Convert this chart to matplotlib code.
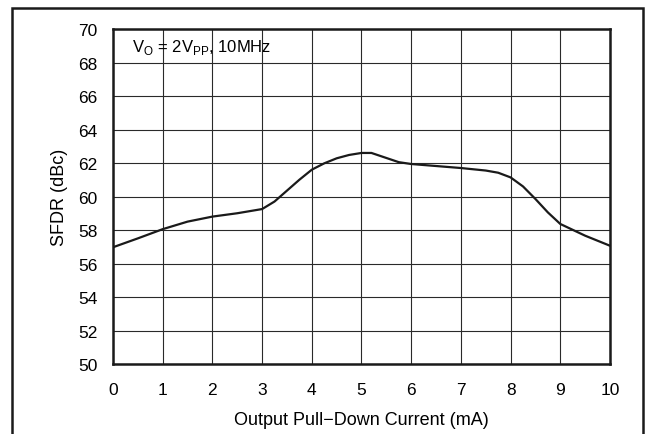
import numpy as np
import matplotlib.pyplot as plt
from matplotlib.patches import Rectangle

plt.rcParams['font.family'] = ['Liberation Sans', 'DejaVu Sans']
plt.rcParams['mathtext.fontset'] = 'custom'
plt.rcParams['mathtext.rm'] = 'Liberation Sans'

# SFDR vs output pull-down current
current_ma = [0, 0.5, 1, 1.5, 2, 2.5, 3, 3.25, 3.5, 3.75, 4, 4.25, 4.5, 4.75, 5, 5.2, 5.5, 5.75,
              6, 6.5, 7, 7.5, 7.75, 8, 8.25, 8.5, 8.75, 9, 9.5, 10]
sfdr_dbc = [56.97, 57.5, 58.05, 58.5, 58.8, 59.0, 59.25, 59.7, 60.35, 61.0, 61.6, 61.98, 62.28,
            62.48, 62.6, 62.6, 62.3, 62.05, 61.94, 61.82, 61.7, 61.55, 61.42, 61.14, 60.6,
            59.85, 59.05, 58.36, 57.66, 57.06]

xticks = list(range(0, 11))
yticks = list(range(50, 71, 2))

fig = plt.figure(figsize=(6.45, 4.35), dpi=100)
ax = fig.add_axes([113/645, 1-365/435, (610-113)/645, (365-30)/435])

ax.plot(current_ma, sfdr_dbc, color='#1a1a1a', lw=1.6, solid_joinstyle='round')

ax.set_xlim(0, 10)
ax.set_ylim(50, 70)
ax.set_xticks(xticks)
ax.set_yticks(yticks)
ax.tick_params(length=0, labelsize=12.5)
ax.tick_params(axis='x', pad=13)
ax.tick_params(axis='y', pad=11)
ax.grid(True, color='#2a2a2a', lw=0.8)
for s in ax.spines.values():
    s.set_linewidth(1.8)
    s.set_color('#1a1a1a')

ax.set_xlabel('Output Pull\u2212Down Current (mA)', fontsize=13, labelpad=10)
ax.set_ylabel('SFDR (dBc)', fontsize=13, labelpad=7.5)

ax.text(0.38, 68.7, r'V$_\mathregular{O}$ = 2V$_\mathregular{PP}$, 10MHz', fontsize=12,
        va='baseline', ha='left')

# outer frame
fig.patches.append(Rectangle((12/645, -0.01), (643-12)/645, 1-9/435+0.01,
                             transform=fig.transFigure, fill=False,
                             lw=1.8, ec='#1a1a1a'))

fig.savefig('out.png', dpi=100)
